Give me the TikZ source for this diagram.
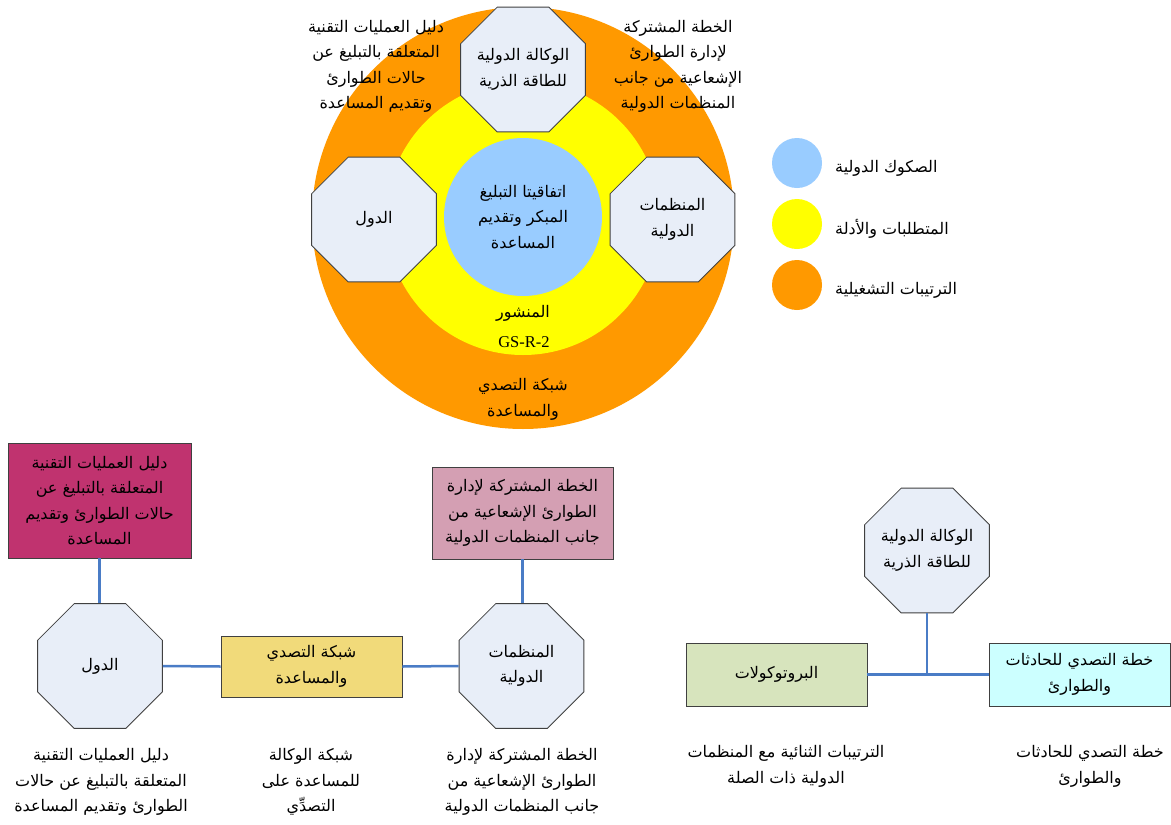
\documentclass[tikz,border=0pt]{standalone}
\usepackage{fontspec}
\setmainfont{Liberation Serif}
\newfontfamily\arabicfont[Script=Arabic]{DejaVu Sans}
\TeXXeTstate=1
\usetikzlibrary{shapes.geometric}
\newcommand\artxt[1]{{\arabicfont\beginR #1\endR}}
\definecolor{orangeC}{HTML}{FF9900}
\definecolor{yellowC}{HTML}{FFFF00}
\definecolor{blueC}{HTML}{99CCFF}
\definecolor{octfill}{HTML}{E8EEF8}
\definecolor{octdraw}{HTML}{404040}
\definecolor{magentaC}{HTML}{C0336F}
\definecolor{pinkC}{HTML}{D49FB3}
\definecolor{yboxC}{HTML}{F1DA7A}
\definecolor{oliveC}{HTML}{D7E4BD}
\definecolor{cyanC}{HTML}{CCFFFF}
\definecolor{linkC}{HTML}{4A7CC6}
\tikzset{
  txt/.style={font=\arabicfont\fontsize{16}{25.5}\selectfont, align=center, inner sep=0pt, text=black},
  disc/.style={circle, inner sep=0pt},
  oct/.style={txt, regular polygon, regular polygon sides=8, minimum size=135pt, inner sep=-12pt, fill=octfill, draw=octdraw, line width=0.8pt},
  boxC/.style={rectangle, draw=octdraw, line width=0.8pt, txt},
  link/.style={draw=linkC, line width=2.5pt}
}
\begin{document}
\begin{tikzpicture}[x=1pt,y=-1pt]
\useasboundingbox (0,0) rectangle (1171,825);
\fill[white] (0,0) rectangle (1171,825);
% ---------- top diagram ----------
\node[disc, fill=orangeC, minimum size=422pt] (outer) at (523,218) {};
\node[txt] (tlText) at (376,66.5) {\artxt{دليل العمليات التقنية}\\\artxt{المتعلقة بالتبليغ عن}\\\artxt{حالات الطوارئ}\\\artxt{وتقديم المساعدة}};
\node[txt] (trText) at (678,66.5) {\artxt{الخطة المشتركة}\\\artxt{لإدارة الطوارئ}\\\artxt{الإشعاعية من جانب}\\\artxt{المنظمات الدولية}};
\node[txt] (netText) at (523,399.5) {\artxt{شبكة التصدي}\\\artxt{والمساعدة}};
\node[disc, fill=yellowC, minimum size=274pt] (mid) at (523,218) {};
\node[txt] (pubText) at (523,313) {\artxt{المنشور}};
\node[font=\fontsize{16.5}{18}\selectfont, inner sep=0pt] (gsText) at (524,342) {GS-R-2};
\node[disc, fill=blueC, minimum size=158pt, txt] (inner) at (523,217) {\artxt{اتفاقيتا التبليغ}\\\artxt{المبكر وتقديم}\\\artxt{المساعدة}};
\node[oct] (octTop) at (523,69.5) {\artxt{الوكالة الدولية}\\\artxt{للطاقة الذرية}};
\node[oct] (octLeft) at (374,219.5) {\artxt{الدول}};
\node[oct] (octRight) at (672.5,219.5) {\artxt{المنظمات}\\\artxt{الدولية}};
% ---------- legend ----------
\node[disc, fill=blueC, minimum size=50pt] (lg1) at (797,163) {};
\node[disc, fill=yellowC, minimum size=50pt] (lg2) at (797,224) {};
\node[disc, fill=orangeC, minimum size=50pt] (lg3) at (797,285) {};
\node[txt, anchor=west] (lg1t) at (835,168) {\artxt{الصكوك الدولية}};
\node[txt, anchor=west] (lg2t) at (835,229) {\artxt{المتطلبات والأدلة}};
\node[txt, anchor=west] (lg3t) at (835,290) {\artxt{الترتيبات التشغيلية}};
% ---------- bottom left diagram ----------
\node[boxC, fill=magentaC, minimum width=183pt, minimum height=115pt] (manual) at (99.5,500.5) {\artxt{دليل العمليات التقنية}\\\artxt{المتعلقة بالتبليغ عن}\\\artxt{حالات الطوارئ وتقديم}\\\artxt{المساعدة}};
\node[boxC, fill=pinkC, minimum width=181pt, minimum height=92pt] (jplan) at (522.5,513) {\artxt{الخطة المشتركة لإدارة}\\\artxt{الطوارئ الإشعاعية من}\\\artxt{جانب المنظمات الدولية}};
\node[oct] (states) at (100,666) {\artxt{الدول}};
\node[boxC, fill=yboxC, minimum width=181pt, minimum height=61pt] (rnet) at (311.5,666.5) {\artxt{شبكة التصدي}\\\artxt{والمساعدة}};
\node[oct] (orgs) at (521.5,666) {\artxt{المنظمات}\\\artxt{الدولية}};
\draw[link] (manual.south) -- (manual.south |- states.north);
\draw[link] (jplan.south) -- (jplan.south |- orgs.north);
\draw[link] (states.east) -- (rnet.west);
\draw[link] (rnet.east) -- (orgs.west);
\node[txt] (cap1) at (101,782) {\artxt{دليل العمليات التقنية}\\\artxt{المتعلقة بالتبليغ عن حالات}\\\artxt{الطوارئ وتقديم المساعدة}};
\node[txt] (cap2) at (311,782) {\artxt{شبكة الوكالة}\\\artxt{للمساعدة على}\\\artxt{التصدِّي}};
\node[txt] (cap3) at (522,782) {\artxt{الخطة المشتركة لإدارة}\\\artxt{الطوارئ الإشعاعية من}\\\artxt{جانب المنظمات الدولية}};
% ---------- bottom right diagram ----------
\node[oct] (iaea) at (927,550.5) {\artxt{الوكالة الدولية}\\\artxt{للطاقة الذرية}};
\node[boxC, fill=oliveC, minimum width=181pt, minimum height=63pt] (proto) at (776.5,674.5) {\artxt{البروتوكولات}};
\node[boxC, fill=cyanC, minimum width=181pt, minimum height=63pt] (rplan) at (1079.5,674.5) {\artxt{خطة التصدي للحادثات}\\\artxt{والطوارئ}};
\coordinate (junc) at (iaea.south |- proto.east);
\draw[link] (iaea.south) -- (junc);
\draw[link] (proto.east) -- (rplan.west);
\node[txt] (cap4) at (786,766.5) {\artxt{الترتيبات الثنائية مع المنظمات}\\\artxt{الدولية ذات الصلة}};
\node[txt] (cap5) at (1090,766.5) {\artxt{خطة التصدي للحادثات}\\\artxt{والطوارئ}};
\end{tikzpicture}
\end{document}
